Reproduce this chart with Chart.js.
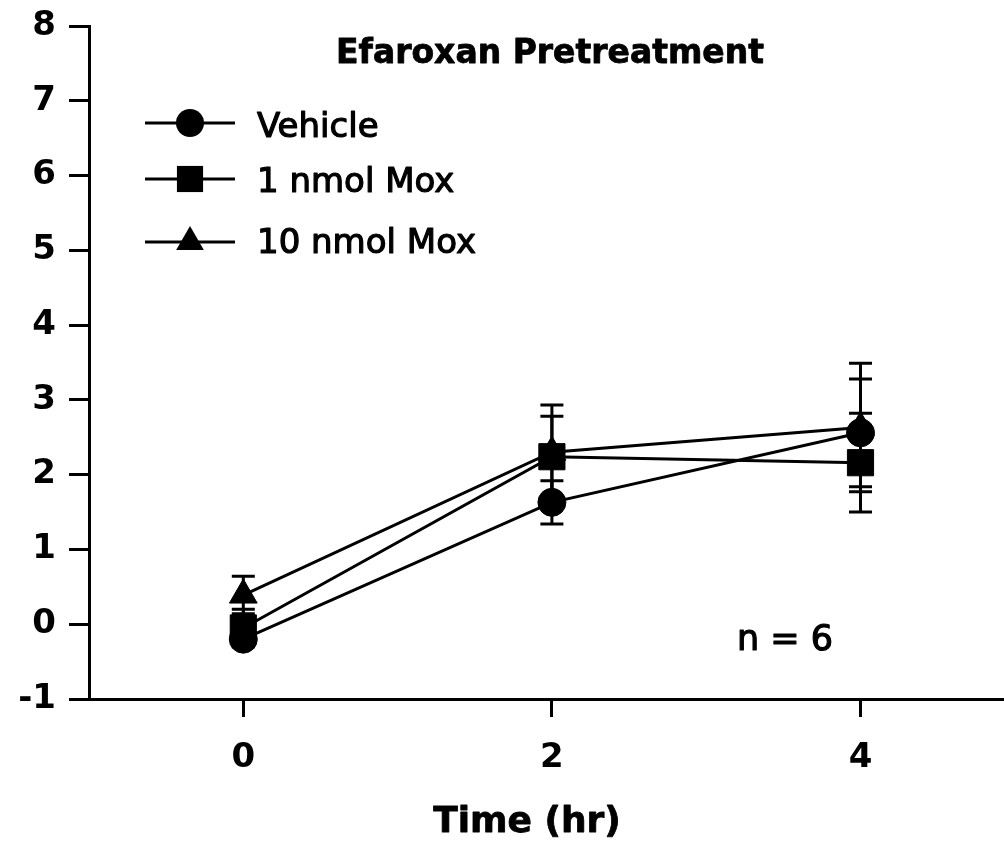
<!DOCTYPE html>
<html><head><meta charset="utf-8">
<script src="https://cdn.jsdelivr.net/npm/chart.js@4/dist/chart.umd.min.js"></script>
<style>html,body{margin:0;padding:0;background:#fff}#wrap{width:1004px;height:848px}</style>
</head><body><div id="wrap"><canvas id="c" width="1004" height="848"></canvas></div>
<script>
// ---- data ----
const times = [0, 2, 4];
const seriesNames = ['Vehicle', '1 nmol Mox', '10 nmol Mox'];
const vehicle = [-0.20, 1.63, 2.56];
const vehicleErr = [0.10, 0.29, 0.72];
const mox1 = [-0.05, 2.24, 2.16];
const mox1Err = [0.25, 0.54, 0.66];
const mox10 = [0.39, 2.30, 2.63];
const mox10Err = [0.25, 0.63, 0.86];
const xTicks = [0, 2, 4];
const chartTitle = 'Efaroxan Pretreatment';
const xTitle = 'Time (hr)';
const note = 'n = 6';

const FONT = "'DejaVu Sans', 'Liberation Sans', sans-serif";
const styles = ['circle', 'rect', 'triangle'];
const radii = [14, 18.5, 16];
const values = [vehicle, mox1, mox10];
const errs = [vehicleErr, mox1Err, mox10Err];

const datasets = values.map((vals, i) => ({
  label: seriesNames[i],
  data: times.map((t, j) => ({x: t, y: vals[j]})),
  borderColor: '#000',
  backgroundColor: '#000',
  borderWidth: 3,
  pointStyle: styles[i],
  pointRadius: radii[i],
  pointBackgroundColor: '#000',
  pointBorderColor: '#000',
  pointBorderWidth: 1,
  showLine: true,
  fill: false,
  tension: 0,
  clip: false,
  errors: errs[i]
}));

function drawMarker(ctx, style, r, x, y) {
  ctx.save();
  ctx.fillStyle = '#000';
  ctx.beginPath();
  if (style === 'circle') {
    ctx.arc(x, y, r, 0, Math.PI * 2);
  } else if (style === 'rect') {
    const s = r * Math.SQRT1_2;
    ctx.rect(x - s, y - s, 2 * s, 2 * s);
  } else {
    ctx.moveTo(x, y - r);
    ctx.lineTo(x + r * Math.sin(Math.PI * 2 / 3), y - r * Math.cos(Math.PI * 2 / 3));
    ctx.lineTo(x + r * Math.sin(Math.PI * 4 / 3), y - r * Math.cos(Math.PI * 4 / 3));
    ctx.closePath();
  }
  ctx.fill();
  ctx.restore();
}

const errPlugin = {
  id: 'errbars',
  beforeDatasetsDraw(chart) {
    const ctx = chart.ctx, xs = chart.scales.x, ys = chart.scales.y;
    ctx.save();
    ctx.strokeStyle = '#000';
    ctx.lineWidth = 3;
    chart.data.datasets.forEach(ds => {
      ds.data.forEach((p, j) => {
        const e = ds.errors[j];
        const x = xs.getPixelForValue(p.x);
        const yt = ys.getPixelForValue(p.y + e);
        const yb = ys.getPixelForValue(p.y - e);
        ctx.beginPath();
        ctx.moveTo(x, yt); ctx.lineTo(x, yb);
        ctx.moveTo(x - 11.5, yt); ctx.lineTo(x + 11.5, yt);
        ctx.moveTo(x - 11.5, yb); ctx.lineTo(x + 11.5, yb);
        ctx.stroke();
      });
    });
    ctx.restore();
  }
};

function heavyText(ctx, t, x, y) {
  ctx.fillText(t, x, y);
  ctx.strokeText(t, x, y);
}

const textPlugin = {
  id: 'texts',
  afterDraw(chart) {
    const ctx = chart.ctx;
    ctx.save();
    ctx.fillStyle = '#000';
    ctx.strokeStyle = '#000';
    ctx.lineJoin = 'round';
    // title
    ctx.font = 'bold 33px ' + FONT;
    ctx.textAlign = 'center';
    ctx.textBaseline = 'alphabetic';
    ctx.lineWidth = 0.8;
    heavyText(ctx, chartTitle, 550, 63);
    // legend
    const legY = [123, 179, 242];
    const baseY = [137, 192, 253];
    ctx.font = '34px ' + FONT;
    ctx.textAlign = 'left';
    seriesNames.forEach((n, i) => {
      ctx.lineWidth = 3;
      ctx.beginPath();
      ctx.moveTo(145, legY[i]); ctx.lineTo(235, legY[i]);
      ctx.stroke();
      drawMarker(ctx, styles[i], radii[i], 190, legY[i]);
      ctx.lineWidth = 1.2;
      heavyText(ctx, n, 257, baseY[i]);
    });
    // note
    ctx.font = '35px ' + FONT;
    ctx.lineWidth = 1.2;
    heavyText(ctx, note, 737, 650);
    // x axis title
    ctx.font = 'bold 36px ' + FONT;
    ctx.textAlign = 'center';
    ctx.lineWidth = 0.8;
    heavyText(ctx, xTitle, 527, 832);
    ctx.restore();
  }
};

new Chart(document.getElementById('c'), {
  type: 'line',
  data: { datasets },
  plugins: [errPlugin, textPlugin],
  options: {
    responsive: false,
    devicePixelRatio: 1,
    animation: false,
    layout: { autoPadding: false, padding: { top: 26, left: 0, right: 0, bottom: 0 } },
    plugins: { legend: { display: false }, tooltip: { enabled: false }, title: { display: false } },
    scales: {
      x: {
        type: 'linear',
        min: -1,
        max: 4.93,
        afterBuildTicks: s => { s.ticks = xTicks.map(v => ({ value: v })); },
        afterFit: s => { s.height = 149; s.paddingLeft = 0; s.paddingRight = 0; s.paddingTop = 0; s.paddingBottom = 0; },
        ticks: { color: '#000', font: { family: FONT, weight: 'bold', size: 34 }, padding: 21, maxRotation: 0, autoSkip: false },
        grid: { drawOnChartArea: false, drawTicks: true, tickLength: 18, tickWidth: 3, tickColor: '#000' },
        border: { display: true, color: '#000', width: 3 }
      },
      y: {
        type: 'linear',
        min: -1,
        max: 8,
        afterFit: s => { s.width = 89; s.paddingLeft = 0; s.paddingRight = 0; s.paddingTop = 0; s.paddingBottom = 0; },
        ticks: { stepSize: 1, color: '#000', font: { family: FONT, weight: 'bold', size: 34 }, padding: 13 },
        grid: { drawOnChartArea: false, drawTicks: true, tickLength: 20, tickWidth: 3, tickColor: '#000' },
        border: { display: true, color: '#000', width: 3 }
      }
    }
  }
});
</script>
</body></html>
